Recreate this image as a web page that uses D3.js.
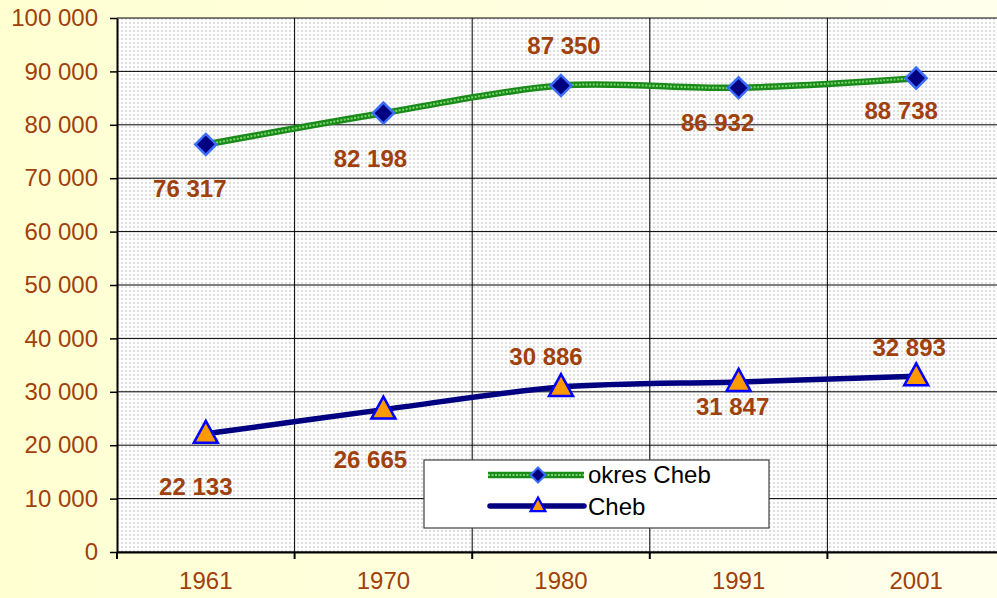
<!DOCTYPE html>
<html>
<head>
<meta charset="utf-8">
<script src="https://cdn.jsdelivr.net/npm/d3@7"></script>
<style>
  body { margin: 0; overflow: hidden; }
  text { font-family: Arial, "Liberation Sans", sans-serif; }
</style>
</head>
<body>
<div class="container"></div>
<script>
// data
var years = ["1961", "1970", "1980", "1991", "2001"];
var okresCheb = [76317, 82198, 87350, 86932, 88738];
var cheb = [22133, 26665, 30886, 31847, 32893];
var yTicks = [0, 10000, 20000, 30000, 40000, 50000, 60000, 70000, 80000, 90000, 100000];
var seriesNames = ["okres Cheb", "Cheb"];

// label placement relative to marker (dx, dy)
var okresLabelOff = [[-16, 53], [-13, 54], [3, -32], [-21, 43], [-15, 41]];
var chebLabelOff = [[-10, 61], [-13, 58], [-15, -22], [-6, 33], [-7, -20]];

var width = 997, height = 598;
var margin = {top: 18, left: 117, bottom: 46},
    plotW = 888,
    plotH = height - margin.top - margin.bottom;

var svg = d3.select("div.container").append("svg")
    .attr("width", width)
    .attr("height", height);

var defs = svg.append("defs");
var grad = defs.append("linearGradient").attr("id", "bg")
    .attr("x1", "0%").attr("x2", "100%").attr("y1", "0%").attr("y2", "0%");
grad.append("stop").attr("offset", "0%").attr("stop-color", "#ffffd2");
grad.append("stop").attr("offset", "100%").attr("stop-color", "#ffffec");

var pat = defs.append("pattern").attr("id", "dots")
    .attr("width", 4).attr("height", 4)
    .attr("patternUnits", "userSpaceOnUse");
pat.append("rect").attr("width", 4).attr("height", 4).attr("fill", "#fdfdfd");
pat.append("rect").attr("width", 2).attr("height", 2).attr("fill", "#dedede");

svg.append("rect").attr("width", width).attr("height", height).attr("fill", "url(#bg)");

var g = svg.append("g").attr("transform", "translate(" + margin.left + "," + margin.top + ")");

var x = d3.scaleBand().domain(years).range([0, plotW]);
var y = d3.scaleLinear().domain([0, 100000]).range([plotH, 0]);
var cx = function(d, i) { return x(years[i]) + x.bandwidth() / 2; };

g.append("rect").attr("width", plotW).attr("height", plotH).attr("fill", "url(#dots)");

// horizontal gridlines
g.selectAll(".hgrid").data(yTicks).enter().append("line")
    .attr("x1", 0).attr("x2", plotW)
    .attr("y1", function(d) { return y(d); }).attr("y2", function(d) { return y(d); })
    .attr("stroke", "#000").attr("stroke-width", 1);

// vertical gridlines at category boundaries
g.selectAll(".vgrid").data(years.slice(1)).enter().append("line")
    .attr("x1", function(d) { return x(d); }).attr("x2", function(d) { return x(d); })
    .attr("y1", 0).attr("y2", plotH)
    .attr("stroke", "#000").attr("stroke-width", 1);

// y axis
var fmt = function(d) { return d3.format(",")(d).replace(/,/g, " "); };
var yAxis = g.append("g")
    .call(d3.axisLeft(y).tickValues(yTicks).tickFormat(fmt).tickSizeInner(7).tickSizeOuter(0).tickPadding(12));
yAxis.select(".domain").attr("stroke", "#000").attr("stroke-width", 2);
yAxis.selectAll(".tick line").attr("stroke", "#000").attr("stroke-width", 1.5);
yAxis.selectAll("text").attr("font-size", 24).attr("fill", "#a0410d")
    .attr("font-family", "Arial, 'Liberation Sans', sans-serif");

// x axis
var xAxis = g.append("g").attr("transform", "translate(0," + plotH + ")")
    .call(d3.axisBottom(x).tickSize(0).tickPadding(20));
xAxis.select(".domain").attr("stroke", "#000").attr("stroke-width", 2);
xAxis.selectAll("text").attr("font-size", 24).attr("fill", "#a0410d")
    .attr("font-family", "Arial, 'Liberation Sans', sans-serif");
xAxis.selectAll(".bound").data(years.concat(["end"])).enter().append("line")
    .attr("x1", function(d, i) { return i * x.bandwidth(); })
    .attr("x2", function(d, i) { return i * x.bandwidth(); })
    .attr("y1", 0).attr("y2", 7)
    .attr("stroke", "#000").attr("stroke-width", 2);

var line = d3.line()
    .x(cx)
    .y(function(d) { return y(d); })
    .curve(d3.curveCardinal.tension(0.1));

// okres Cheb: textured green line
g.append("path").datum(okresCheb).attr("d", line)
    .attr("fill", "none").attr("stroke", "#1a8a1a").attr("stroke-width", 6.5);
g.append("path").datum(okresCheb).attr("d", line)
    .attr("fill", "none").attr("stroke", "#79d66a").attr("stroke-width", 2)
    .attr("stroke-dasharray", "2,1.5");

// Cheb: navy line
g.append("path").datum(cheb).attr("d", line)
    .attr("fill", "none").attr("stroke", "#000080").attr("stroke-width", 5.5)
    .attr("stroke-linecap", "round");

var diamond = function(s) { return "M0,-" + s + "L" + s + ",0L0," + s + "L-" + s + ",0Z"; };
var triangle = "M0,-12L12,10L-12,10Z";

g.selectAll(".dia").data(okresCheb).enter().append("path")
    .attr("transform", function(d, i) { return "translate(" + cx(d, i) + "," + y(d) + ")"; })
    .attr("d", diamond(10.5))
    .attr("fill", "#000080").attr("stroke", "#3a6cff").attr("stroke-width", 2.5);

g.selectAll(".tri").data(cheb).enter().append("path")
    .attr("transform", function(d, i) { return "translate(" + cx(d, i) + "," + (y(d) - 1) + ")"; })
    .attr("d", triangle)
    .attr("fill", "#ff9900").attr("stroke", "#0000ff").attr("stroke-width", 2.5);

// data labels
function labels(data, off) {
  g.selectAll(null).data(data).enter().append("text")
    .attr("x", function(d, i) { return cx(d, i) + off[i][0]; })
    .attr("y", function(d, i) { return y(d) + off[i][1]; })
    .attr("text-anchor", "middle")
    .attr("font-size", 24).attr("font-weight", "bold").attr("fill", "#a0410d")
    .text(fmt);
}
labels(okresCheb, okresLabelOff);
labels(cheb, chebLabelOff);

// legend
var leg = svg.append("g").attr("transform", "translate(424,460)");
leg.append("rect").attr("width", 345).attr("height", 68)
    .attr("fill", "#fff").attr("stroke", "#404040").attr("stroke-width", 1.2);
var l1 = leg.append("g").attr("transform", "translate(0,15)");
l1.append("line").attr("x1", 64).attr("x2", 160).attr("stroke", "#1a8a1a").attr("stroke-width", 6.5);
l1.append("line").attr("x1", 64).attr("x2", 160).attr("stroke", "#79d66a").attr("stroke-width", 2)
    .attr("stroke-dasharray", "2,1.5");
l1.append("path").attr("transform", "translate(114,0)").attr("d", diamond(7.5))
    .attr("fill", "#000080").attr("stroke", "#3a6cff").attr("stroke-width", 2);
l1.append("text").attr("x", 164).attr("y", 8).attr("font-size", 24).attr("fill", "#000").text(seriesNames[0]);
var l2 = leg.append("g").attr("transform", "translate(0,46)");
l2.append("line").attr("x1", 66).attr("x2", 160).attr("stroke", "#000080").attr("stroke-width", 5.5)
    .attr("stroke-linecap", "round");
l2.append("path").attr("transform", "translate(114,-1) scale(0.62)").attr("d", triangle)
    .attr("fill", "#ff9900").attr("stroke", "#0000ff").attr("stroke-width", 3.5);
l2.append("text").attr("x", 164).attr("y", 9).attr("font-size", 24).attr("fill", "#000").text(seriesNames[1]);
</script>
</body>
</html>
